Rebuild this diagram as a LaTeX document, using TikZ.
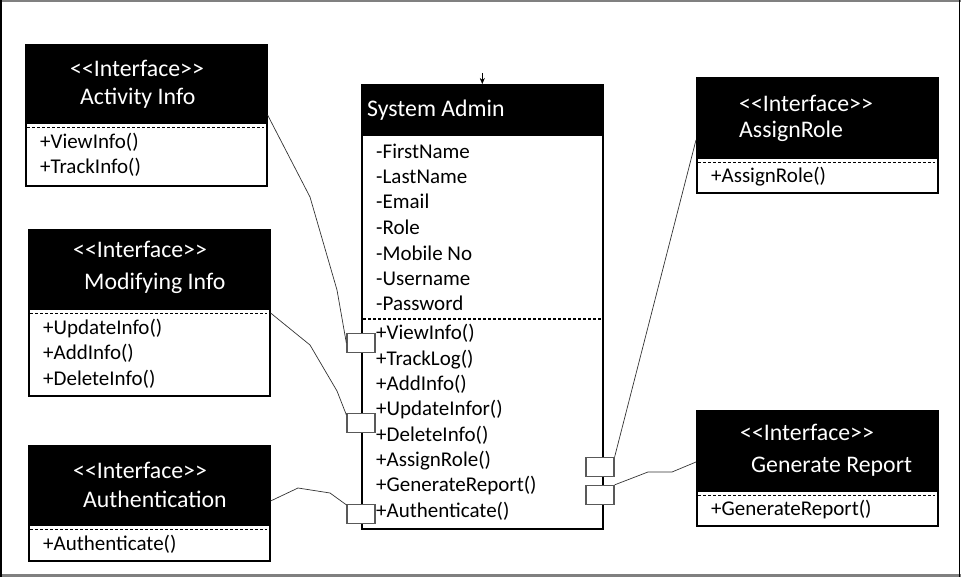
\documentclass[tikz,border=0pt]{standalone}
\usepackage{fontspec}
\setmainfont{Carlito}[Ligatures=TeXOff]
\usetikzlibrary{arrows.meta}

\tikzset{
  ifbox/.style={draw=black, line width=1.6pt, fill=white, anchor=north west, inner sep=0pt, minimum width=241},
  hdr/.style={fill=black, anchor=north west, inner sep=0pt, minimum width=241},
  sep/.style={black, line width=1.2pt, dash pattern=on 3pt off 2pt},
  ttl/.style={text=white, anchor=base west, inner sep=0pt, font=\fontsize{23.8}{28}\selectfont},
  ops/.style={anchor=base west, inner sep=0pt, align=left, font=\fontsize{21}{25.5}\selectfont},
  port/.style={draw=black!65, line width=1.3pt, fill=white, minimum width=28, minimum height=19, inner sep=0pt},
  wire/.style={black!80, line width=0.7pt},
}

\begin{document}
\begin{tikzpicture}[x=1pt,y=-1pt]
  \useasboundingbox (0,0) rectangle (961,577);
  % frame
  \draw[gray, line width=2.5pt] (0,1) -- (961,1);
  \draw[gray, line width=3pt] (0,575.5) -- (961,575.5);
  \draw[black, line width=1.5pt] (1.2,0) -- (1.2,577);
  \draw[black, line width=1.5pt] (959.5,0) -- (959.5,577);

  % interface: activity info
  \node[ifbox, minimum height=141] (act) at (25,44) {};
  \node[hdr, minimum height=80] (acthd) at (act.north west) {};
  \draw[sep] ([xshift=2,yshift=-3]acthd.south west) -- ([xshift=-2,yshift=-3]acthd.south east);
  \node[ttl] (actst) at (70,77) {<<Interface>>};
  \node[ttl] (actnm) at (80,105) {Activity Info};
  \node[ops] (actop) at (40,174) {+ViewInfo()\\+TrackInfo()};

  % interface: modifying info
  \node[ifbox, minimum height=166] (mod) at (28,229) {};
  \node[hdr, minimum height=81] (modhd) at (mod.north west) {};
  \draw[sep] ([xshift=2,yshift=-3]modhd.south west) -- ([xshift=-2,yshift=-3]modhd.south east);
  \node[ttl] (modst) at (73,258) {<<Interface>>};
  \node[ttl] (modnm) at (84,290) {Modifying Info};
  \node[ops] (modop) at (43,385) {+UpdateInfo()\\+AddInfo()\\+DeleteInfo()};

  % interface: authentication
  \node[ifbox, minimum height=115] (aut) at (28,445) {};
  \node[hdr, minimum height=81] (authd) at (aut.north west) {};
  \draw[sep] ([xshift=2,yshift=-3]authd.south west) -- ([xshift=-2,yshift=-3]authd.south east);
  \node[ttl] (autst) at (73,478) {<<Interface>>};
  \node[ttl] (autnm) at (83,507) {Authentication};
  \node[ops] (autop) at (43,550) {+Authenticate()};

  % class: system admin
  \node[ifbox, minimum height=444] (adm) at (361,84) {};
  \node[hdr, minimum height=52] (admhd) at (adm.north west) {};
  \node[ttl] (admnm) at (367,117) {System Admin};
  \node[ops] (admat) at (376,311) {-FirstName\\-LastName\\-Email\\-Role\\-Mobile No\\-Username\\-Password};
  \draw[sep] ([xshift=2,yshift=-235]adm.north west) -- ([xshift=-2,yshift=-235]adm.north east);
  \node[ops, font=\fontsize{21}{25.3}\selectfont] (admop) at (376,517)
    {+ViewInfo()\\+TrackLog()\\+AddInfo()\\+UpdateInfor()\\+DeleteInfo()\\+AssignRole()\\+GenerateReport()\\+Authenticate()};
  \draw[-{Stealth[length=6pt,width=5pt]}] ([yshift=11]adm.north) -- (adm.north);

  % interface: assign role
  \node[ifbox, minimum height=115] (asg) at (696,77) {};
  \node[hdr, minimum height=82] (asghd) at (asg.north west) {};
  \draw[sep] ([xshift=2,yshift=-3]asghd.south west) -- ([xshift=-2,yshift=-3]asghd.south east);
  \node[ttl] (asgst) at (739,112) {<<Interface>>};
  \node[ttl] (asgnm) at (739,138) {AssignRole};
  \node[ops] (asgop) at (711,183) {+AssignRole()};

  % interface: generate report
  \node[ifbox, minimum height=115] (gen) at (696,410) {};
  \node[hdr, minimum height=82] (genhd) at (gen.north west) {};
  \draw[sep] ([xshift=2,yshift=-3]genhd.south west) -- ([xshift=-2,yshift=-3]genhd.south east);
  \node[ttl] (genst) at (740,440) {<<Interface>>};
  \node[ttl] (gennm) at (751,472) {Generate Report};
  \node[ops] (genop) at (711,515) {+GenerateReport()};

  % ports on the class
  \node[port] (pview) at (361,343) {};
  \node[port] (pmod) at (361,423) {};
  \node[port] (pauth) at (361,514) {};
  \node[port] (prole) at (600,467) {};
  \node[port] (prep) at (600,495) {};

  % wires
  \draw[wire] ([yshift=-71]act.north east) -- (310,197) -- (337,290) -- (pview.west);
  \draw[wire] ([yshift=-84]mod.north east) -- (310,345) -- (337,391) -- ([yshift=-2]pmod.north west);
  \draw[wire] ([yshift=-56]aut.north east) -- (298,488) -- (330,493) -- ([yshift=-1]pauth.north west);
  \draw[wire] ([yshift=-63]asg.north west) -- (prole.north east);
  \draw[wire] ([yshift=-52]gen.north west) -- (672,472) -- (648,472) -- (prep.north east);
\end{tikzpicture}
\end{document}
